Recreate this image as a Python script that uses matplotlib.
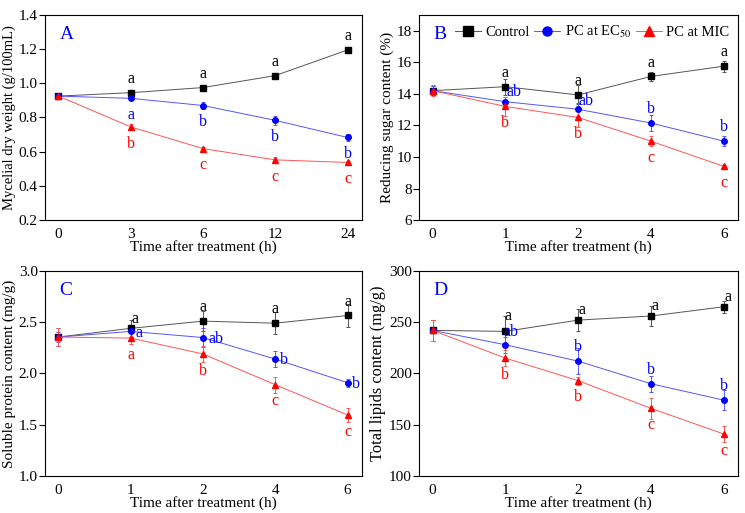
import numpy as np
import matplotlib.pyplot as plt
from matplotlib.lines import Line2D

plt.rcParams['font.family'] = ['Liberation Serif', 'DejaVu Serif']
plt.rcParams['mathtext.fontset'] = 'stix'

# ---------------- data ----------------
labels_A = ['0', '3', '6', '12', '24']
labels_B = ['0', '1', '2', '4', '6']

ctrl_A = [0.925, 0.945, 0.975, 1.045, 1.195]
ec50_A = [0.925, 0.912, 0.870, 0.783, 0.683]
mic_A = [0.925, 0.745, 0.618, 0.552, 0.537]
ctrl_A_err = [0.010, 0.010, 0.010, 0.015, 0.010]
ec50_A_err = [0.010, 0.012, 0.020, 0.025, 0.020]
mic_A_err = [0.012, 0.018, 0.010, 0.015, 0.010]

ctrl_B = [14.2, 14.45, 13.93, 15.1, 15.75]
ec50_B = [14.2, 13.5, 13.02, 12.15, 11.0]
mic_B = [14.2, 13.2, 12.5, 11.0, 9.4]
ctrl_B_err = [0.3, 0.5, 0.6, 0.3, 0.35]
ec50_B_err = [0.3, 0.3, 0.4, 0.5, 0.3]
mic_B_err = [0.35, 0.6, 0.6, 0.3, 0.1]

ctrl_C = [2.355, 2.44, 2.51, 2.49, 2.565]
ec50_C = [2.355, 2.41, 2.35, 2.14, 1.91]
mic_C = [2.355, 2.345, 2.19, 1.89, 1.595]
ctrl_C_err = [0.09, 0.08, 0.10, 0.11, 0.11]
ec50_C_err = [0.05, 0.05, 0.09, 0.08, 0.04]
mic_C_err = [0.09, 0.06, 0.08, 0.08, 0.07]

ctrl_D = [242, 241, 252, 256, 265]
ec50_D = [242, 228, 212, 190, 174]
mic_D = [242, 215, 193, 166, 141]
ctrl_D_err = [10, 15, 11, 10, 6]
ec50_D_err = [10, 8, 13, 8, 10]
mic_D_err = [10, 8, 4, 10, 8]

# significance letters (None = no letter)
sig_A = [[None, 'a', 'a', 'a', 'a'], [None, 'a', 'b', 'b', 'b'], [None, 'b', 'c', 'c', 'c']]
sig_B = [[None, 'a', 'a', 'a', 'a'], [None, 'ab', 'ab', 'b', 'b'], [None, 'b', 'b', 'c', 'c']]
sig_C = [[None, 'a', 'a', 'a', 'a'], [None, 'a', 'ab', 'b', 'b'], [None, 'a', 'b', 'c', 'c']]
sig_D = [[None, 'a', 'a', 'a', 'a'], [None, 'ab', 'b', 'b', 'b'], [None, 'b', 'b', 'c', 'c']]

series_names = ['Control', 'PC at EC$_{50}$', 'PC at MIC']

# ---------------- style ----------------
colors = ['black', 'blue', 'red']
line_colors = ['#555555', '#5555ff', '#ff5555']
markers = ['s', 'o', '^']

# letter offsets (points) per panel, per series, per point
up = (0, 10)
dn = (0, -12)
off_A = [[up] * 5, [dn] * 5, [dn] * 5]
off_B = [[up] * 5, [None, (6, 7), (6, 6), up, up], [dn] * 5]
off_C = [[None, (3, 7), up, up, up], [None, (6, -1), (9, -1), (6, -1), (6, -1)], [dn] * 5]
off_D = [[None, (2, 11), (3, 7), (3, 7), (3, 7)], [None, (4, 9), up, up, up], [dn] * 5]

panels = [
    ('A', labels_A, [ctrl_A, ec50_A, mic_A], [ctrl_A_err, ec50_A_err, mic_A_err], sig_A, off_A,
     'Mycelial dry weight (g/100mL)', 10.5, (0.2, 1.4), np.arange(0.2, 1.41, 0.2), '%.1f'),
    ('B', labels_B, [ctrl_B, ec50_B, mic_B], [ctrl_B_err, ec50_B_err, mic_B_err], sig_B, off_B,
     'Reducing sugar content (%)', 11, (6, 19), np.arange(6, 18.1, 2), '%d'),
    ('C', labels_B, [ctrl_C, ec50_C, mic_C], [ctrl_C_err, ec50_C_err, mic_C_err], sig_C, off_C,
     'Soluble protein content (mg/g)', 11, (1.0, 3.0), np.arange(1.0, 3.01, 0.5), '%.1f'),
    ('D', labels_B, [ctrl_D, ec50_D, mic_D], [ctrl_D_err, ec50_D_err, mic_D_err], sig_D, off_D,
     'Total lipids content (mg/g)', 11.8, (100, 300), np.arange(100, 301, 50), '%d'),
]

rects = [
    [0.061, 0.571, 0.425, 0.400],
    [0.563, 0.571, 0.428, 0.400],
    [0.061, 0.072, 0.425, 0.400],
    [0.563, 0.072, 0.428, 0.400],
]

fig = plt.figure(figsize=(7.45, 5.13), dpi=100)

for rect, (tag, xlabels, ys, errs, sigs, offs, ylabel, ylsize, ylim, yticks, fmt) in zip(rects, panels):
    ax = fig.add_axes(rect)
    x = np.arange(len(xlabels))
    for i in range(3):
        ax.errorbar(x, ys[i], yerr=errs[i], color=line_colors[i], lw=0.7,
                    marker=markers[i], ms=4, mfc=colors[i], mec=colors[i],
                    ecolor=line_colors[i], elinewidth=0.7, capsize=1.5, capthick=0.7)
        for j in range(len(x)):
            if sigs[i][j] is None:
                continue
            ax.annotate(sigs[i][j], (x[j], ys[i][j]), xytext=offs[i][j],
                        textcoords='offset points', ha='center', va='center',
                        color=colors[i], fontsize=11.5)
    ax.set_xlim(-0.18, 4.2)
    ax.set_ylim(*ylim)
    ax.set_xticks(x)
    ax.set_xticklabels(xlabels)
    ax.set_yticks(yticks)
    ax.set_yticklabels([fmt % v for v in yticks])
    ax.tick_params(axis='x', length=0, pad=6, labelsize=11)
    ax.tick_params(axis='y', direction='out', length=4, width=0.8, pad=1.5, labelsize=11)
    ax.set_xlabel('Time after treatment (h)', fontsize=11, labelpad=-1)
    ax.set_ylabel(ylabel, fontsize=ylsize, labelpad=2)
    for s in ax.spines.values():
        s.set_linewidth(0.8)
    ax.text(0.045, 0.905, tag, transform=ax.transAxes, color='blue', fontsize=14,
            ha='left', va='center')
    if tag == 'B':
        handles = [Line2D([], [], color=line_colors[i], lw=0.7, marker=markers[i],
                          ms=6.5, mfc=colors[i], mec=colors[i]) for i in range(3)]
        ax.legend(handles, series_names, loc='upper right', ncol=3, frameon=False,
                  fontsize=10.5, handlelength=1.8, handletextpad=0.3,
                  columnspacing=0.3, borderaxespad=0.2)

fig.savefig('out.png', dpi=100)
